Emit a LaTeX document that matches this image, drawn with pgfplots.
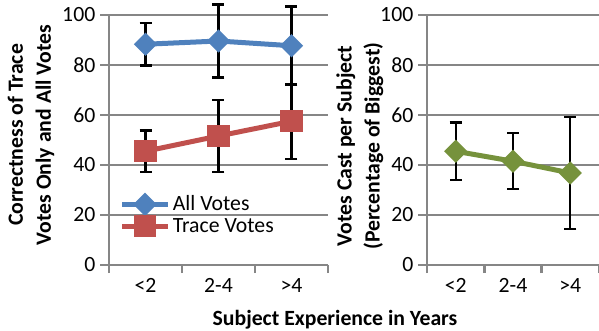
\documentclass[border=0pt]{standalone}
\usepackage{fontspec}
\setmainfont{Carlito}
\usepackage{pgfplots}
\pgfplotsset{compat=1.18}

\definecolor{allblue}{RGB}{79,129,189}
\definecolor{tracered}{RGB}{192,80,77}
\definecolor{votegreen}{RGB}{118,146,60}
\definecolor{gridgray}{RGB}{134,134,134}

\pgfplotstableread{
x y e
0 88.3 8.5
1 89.6 14.6
2 87.7 15.7
}\allvotes
\pgfplotstableread{
x y e
0 45.5 8.3
1 51.6 14.3
2 57.5 15.0
}\tracevotes
\pgfplotstableread{
x y e
0 45.5 11.5
1 41.5 11.2
2 36.8 22.5
}\castvotes

\pgfplotsset{
  panel/.style={
    scale only axis,
    height=187.5pt,
    font=\fontsize{16.3}{19}\selectfont,
    /pgf/number format/assume math mode=true,
    xmin=-0.5, xmax=2.5, ymin=0, ymax=100,
    xtick={0,1,2}, xticklabels={<2,2-4,>4},
    minor xtick={-0.5,0.5,1.5,2.5},
    ytick={0,20,40,60,80,100},
    axis x line=bottom, axis y line=left,
    axis line style={-, gridgray, line width=2pt},
    ymajorgrids, major grid style={gridgray, line width=2pt},
    tick align=outside,
    major tick length=6.75pt, minor tick length=6pt,
    every major x tick/.append style={draw=none},
    every minor x tick/.append style={gridgray, line width=2pt},
    every major y tick/.append style={gridgray, line width=2pt},
    clip=false,
    error bars/y dir=both, error bars/y explicit,
    error bars/error bar style={black, line width=1.6pt},
    error bars/error mark options={rotate=90, black, mark size=4.5pt, line width=1.6pt},
  },
  series/.style={line width=3.75pt, color=#1, mark options={solid, fill=#1, draw=#1, line width=0.5pt}},
  bars only/.style={draw=none, mark=none, forget plot},
}

\begin{document}
\begin{tikzpicture}
\path[use as bounding box] (0,0) rectangle (449.25pt,-248.25pt);

% left panel: correctness
\begin{axis}[panel,
  at={(81.75pt,-198.75pt)}, anchor=south west,
  width=164.25pt,
  ylabel={\bfseries Correctness of Trace\\\bfseries Votes Only and All Votes},
  ylabel style={align=center, font=\fontsize{16.3}{21}\selectfont, at={(axis description cs:-0.356,0.52)}, anchor=center},
  legend style={draw=none, fill=none, at={(0.03,0.2)}, anchor=west,
    font=\fontsize{16.3}{19}\selectfont, row sep=0pt},
  legend cell align=left,
  legend image code/.code={\draw[mark repeat=2, mark phase=2] plot coordinates {(0pt,0pt) (17pt,0pt) (34pt,0pt)};},
]
\addplot[series=allblue, mark=square*, mark options={rotate=45, mark size=4.3pt}] table[x=x, y=y] {\allvotes};
\addlegendentry{All Votes}
\addplot[series=tracered, mark=square*, mark options={mark size=6.5pt}] table[x=x, y=y] {\tracevotes};
\addlegendentry{Trace Votes}
\addplot[bars only] table[x=x, y=y, y error=e] {\allvotes};
\addplot[bars only] table[x=x, y=y, y error=e] {\tracevotes};
\end{axis}

% right panel: votes cast
\begin{axis}[panel,
  at={(320.25pt,-198.75pt)}, anchor=south west,
  width=129pt,
  ylabel={\bfseries Votes Cast per Subject\\\bfseries (Percentage of Biggest)},
  ylabel style={align=center, font=\fontsize{16.3}{21}\selectfont, at={(axis description cs:-0.39,0.476)}, anchor=center},
]
\addplot[series=votegreen, mark=square*, mark options={rotate=45, mark size=4.3pt}] table[x=x, y=y] {\castvotes};
\addplot[bars only] table[x=x, y=y, y error=e] {\castvotes};
\end{axis}

\node[font=\bfseries\fontsize{16.3}{19}\selectfont, anchor=base] at (251.25pt,-243.75pt) {Subject Experience in Years};
\end{tikzpicture}
\end{document}
